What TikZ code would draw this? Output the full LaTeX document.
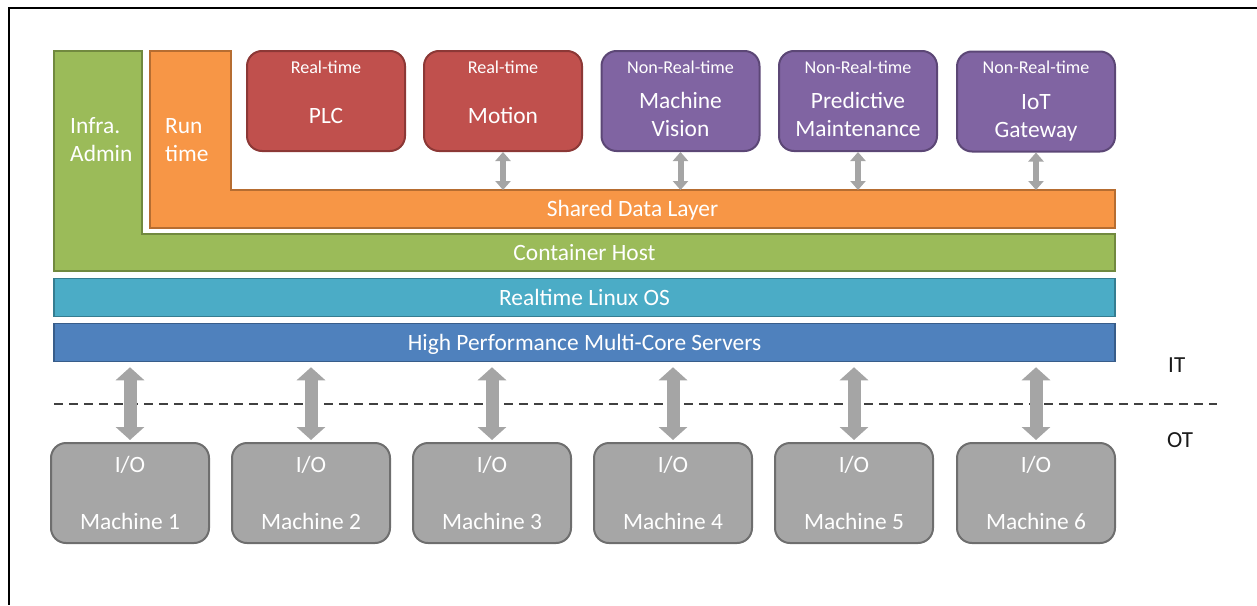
\documentclass[tikz,border=0pt]{standalone}
\usepackage{fontspec}
\setmainfont{Carlito}
\usetikzlibrary{arrows.meta}
\definecolor{grnF}{HTML}{9BBB59}\definecolor{grnD}{HTML}{71893F}
\definecolor{orgF}{HTML}{F79646}\definecolor{orgD}{HTML}{B66D31}
\definecolor{redF}{HTML}{C0504D}\definecolor{redD}{HTML}{8C3836}
\definecolor{purF}{HTML}{8064A2}\definecolor{purD}{HTML}{5C4776}
\definecolor{tealF}{HTML}{4BACC6}\definecolor{tealD}{HTML}{357D91}
\definecolor{bluF}{HTML}{4F81BD}\definecolor{bluD}{HTML}{385D8A}
\definecolor{gryF}{HTML}{A6A6A6}\definecolor{gryD}{HTML}{6E6E6E}
\definecolor{arrG}{HTML}{A5A5A5}
\definecolor{dashC}{HTML}{404040}
\definecolor{txtK}{HTML}{1A1A1A}
\tikzset{
  big/.style={font=\fontsize{23.4}{28}\selectfont, text=white, anchor=base, inner sep=0pt},
  bigL/.style={big, anchor=base west},
  small/.style={font=\fontsize{18.1}{21}\selectfont, text=white, anchor=base, inner sep=0pt},
  side/.style={font=\fontsize{23}{27}\selectfont, text=txtK, anchor=base west, inner sep=0pt},
  appbox/.style={draw=#1D, fill=#1F, line width=2pt, rounded corners=15pt, minimum width=158pt, minimum height=100pt, inner sep=0pt},
  machbox/.style={draw=gryD, fill=gryF, line width=2pt, rounded corners=15pt, minimum width=158pt, minimum height=100pt, inner sep=0pt},
  barbox/.style={draw=#1D, fill=#1F, line width=1.5pt, minimum width=1061pt, minimum height=38pt, inner sep=0pt},
  smallarrow/.style={draw=arrG, line width=6pt, {Triangle[width=15pt,length=9pt]}-{Triangle[width=15pt,length=9pt]}},
  bigarrow/.style={draw=arrG, line width=13pt, {Triangle[width=28pt,length=13pt]}-{Triangle[width=28pt,length=13pt]}, shorten <=5pt, shorten >=2pt},
}
\begin{document}
\begin{tikzpicture}[x=1pt,y=-1pt]
\useasboundingbox (0,0) rectangle (1257,605);
% frame
\coordinate (fTL) at (9,8);
\coordinate (fTR) at (1257,8);
\coordinate (fBL) at (9,605);
\draw[line width=2.5pt, black] (fTR) -- (fTL) -- (fBL);

% green L (Infra admin + container host)
\draw[draw=grnD, fill=grnF, line width=1.5pt] (54,51) -- (142,51) -- (142,234) -- (1115,234) -- (1115,271) -- (54,271) -- cycle;
% orange L (Run time + shared data layer)
\draw[draw=orgD, fill=orgF, line width=1.5pt] (150,51) -- (231,51) -- (231,190) -- (1115,190) -- (1115,228) -- (150,228) -- cycle;
\coordinate (sdltop) at (600,190);

\node[bigL] (infra) at (70,133) {Infra.};
\node[bigL] (admin) at (70,161) {Admin};
\node[bigL] (run) at (165,133) {Run};
\node[bigL] (rtime) at (165,161) {time};
\node[big] (sdl) at (632.5,216.7) {Shared Data Layer};
\node[big] (host) at (584.5,260.5) {Container Host};

% OS and servers bars
\node[barbox=teal] (os) at (584.5,297.5) {};
\node[big] (ostxt) at (584.5,305.7) {Realtime Linux OS};
\node[barbox=blu] (hp) at (584.5,342.5) {};
\node[big] (hptxt) at (584.5,350.7) {High Performance Multi-Core Servers};

% application boxes
\node[appbox=red] (plc) at (326,101) {};
\node[small] at (326,73.5) {Real-time};
\node[big] at (326,123.3) {PLC};
\node[appbox=red] (motion) at (503,101) {};
\node[small] at (503,73.5) {Real-time};
\node[big] at (503,123.3) {Motion};
\node[appbox=pur] (mv) at (680.5,101) {};
\node[small] at (680.5,73.5) {Non-Real-time};
\node[big] at (680.5,108.5) {Machine};
\node[big] at (680.5,136.7) {Vision};
\node[appbox=pur] (pm) at (858,101) {};
\node[small] at (858,73.5) {Non-Real-time};
\node[big] at (858,108.5) {Predictive};
\node[big] at (858,136.7) {Maintenance};
\node[appbox=pur] (iot) at (1036,101.5) {};
\node[small] at (1036,73.5) {Non-Real-time};
\node[big] at (1036,109.5) {IoT};
\node[big] at (1036,137.7) {Gateway};

\foreach \n in {motion,mv,pm,iot}
  \draw[smallarrow] (\n.south) -- (\n.south |- sdltop);

% IT / OT divider
\coordinate (dashL) at (54,404);
\coordinate (dashR) at (1217,404);
\draw[dashC, line width=2.5pt, dash pattern=on 9pt off 6pt] (dashL) -- (dashR);
\node[side] (it) at (1168,372.3) {IT};
\node[side] (ot) at (1167,447.3) {OT};

% machines
\foreach \i/\x in {1/130,2/311,3/492,4/673,5/854,6/1036}{
  \node[machbox] (m\i) at (\x,493) {};
  \node[big] at (\x,472.7) {I/O};
  \node[big] at (\x,529) {Machine \i};
  \draw[bigarrow] (m\i.north |- hp.south) -- (m\i.north);
}
\end{tikzpicture}
\end{document}
